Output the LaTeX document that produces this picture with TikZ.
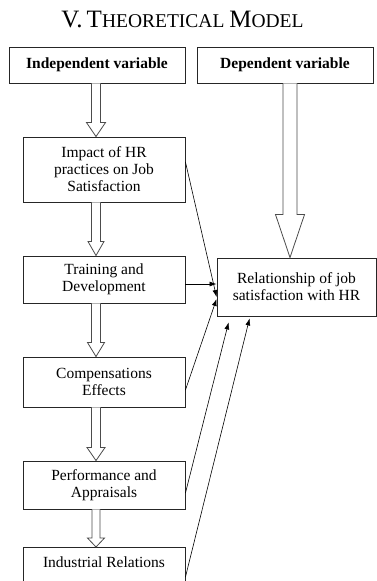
\documentclass[tikz,border=0pt]{standalone}
\usepackage{fontspec}
\setmainfont{Liberation Serif}
\usetikzlibrary{calc,arrows.meta}

% block arrow: start, end, shaft half width, head half width, head length
\newcommand{\hollowarrow}[5]{%
  \draw[hollow] let \p1=(#1), \p2=(#2) in
    (\x1-#3,\y1) -- (\x1-#3,\y2+#5) -- (\x1-#4,\y2+#5) -- (\x1,\y2)
    -- (\x1+#4,\y2+#5) -- (\x1+#3,\y2+#5) -- (\x1+#3,\y1);
}

\begin{document}
\begin{tikzpicture}[x=1pt, y=-1pt, semithick, >={Latex[length=7pt,width=5pt]},
  box/.style={draw=black!85, line width=0.9pt, inner sep=0pt, align=center,
    minimum width=162pt, font=\fontsize{15.5}{17}\selectfont},
  headbox/.style={box, minimum width=176pt, minimum height=36pt,
    font=\bfseries\fontsize{15.5}{17}\selectfont},
  hollow/.style={draw=black!70, fill=white, line width=0.8pt}]

  \useasboundingbox (0,0) rectangle (377,581);

  \node [anchor=base] (title) at (182.5,27)
    {{\fontsize{25}{30}\selectfont V.\,T}{\fontsize{19.5}{24}\selectfont HEORETICAL }{\fontsize{25}{30}\selectfont M}{\fontsize{19.5}{24}\selectfont ODEL}};

  \node [headbox] (indep) at (97,65) {Independent variable};
  \node [headbox] (dep) at (285,65) {Dependent variable};

  \node [box, minimum height=65pt] (impact) at (104,169.5) {Impact of HR\\practices on Job\\Satisfaction};
  \node [box, minimum height=47pt] (train) at (104,279.5) {Training and\\Development};
  \node [box, minimum height=50pt] (comp) at (104,382) {Compensations\\Effects};
  \node [box, minimum height=48pt] (perf) at (104,485) {Performance and\\Appraisals};
  \node [box, anchor=north, inner ysep=9pt, text depth=30pt] (indrel) at (104,547) {Industrial Relations};

  \node [box, minimum width=159pt, minimum height=58pt] (rel) at (296.5,287) {Relationship of job\\satisfaction with HR};

  \coordinate (spine) at (96,0);
  \coordinate (depspine) at (290,0);

  \hollowarrow{indep.south -| spine}{impact.north -| spine}{4.5pt}{9.5pt}{14pt}
  \hollowarrow{impact.south -| spine}{train.north -| spine}{4.5pt}{8pt}{14pt}
  \hollowarrow{train.south -| spine}{comp.north -| spine}{4.5pt}{8.5pt}{14pt}
  \hollowarrow{comp.south -| spine}{perf.north -| spine}{4.5pt}{9pt}{13pt}
  \hollowarrow{perf.south -| spine}{indrel.north -| spine}{4pt}{8.5pt}{9pt}
  \hollowarrow{dep.south -| depspine}{rel.north -| depspine}{7pt}{14.5pt}{43pt}

  \path ([yshift=7.5pt]impact.east) edge[->] ([yshift=-10pt]rel.west);
  \path ([yshift=-4.5pt]train.east) edge[->] ([yshift=3pt]rel.west);
  \path ([yshift=-8pt]comp.east) edge[->] ([yshift=-12pt]rel.west);
  \path ([yshift=-8pt]perf.east) edge[->] ([xshift=12pt,yshift=-6pt]rel.south west);
  \path ([yshift=-30pt]indrel.north east) edge[->] ([xshift=33pt,yshift=-2pt]rel.south west);
\end{tikzpicture}
\end{document}
